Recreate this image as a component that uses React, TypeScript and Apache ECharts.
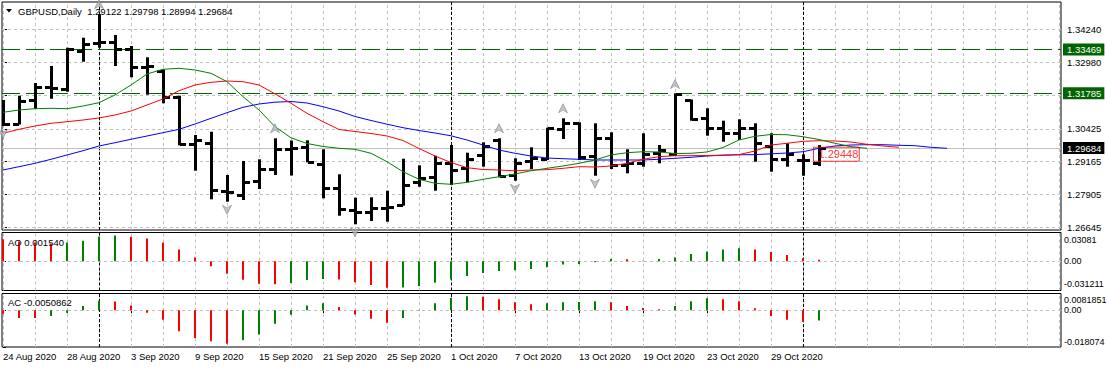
import React, { useEffect, useRef } from 'react';
import * as echarts from 'echarts';

const symbolName = 'GBPUSD';
const timeframe = 'Daily';

const barDates = [
  '24 Aug 2020', '25 Aug 2020', '26 Aug 2020', '27 Aug 2020', '28 Aug 2020', '31 Aug 2020',
  '1 Sep 2020', '2 Sep 2020', '3 Sep 2020', '4 Sep 2020', '7 Sep 2020', '8 Sep 2020', '9 Sep 2020',
  '10 Sep 2020', '11 Sep 2020', '14 Sep 2020', '15 Sep 2020', '16 Sep 2020', '17 Sep 2020',
  '18 Sep 2020', '21 Sep 2020', '22 Sep 2020', '23 Sep 2020', '24 Sep 2020', '25 Sep 2020',
  '28 Sep 2020', '29 Sep 2020', '30 Sep 2020', '1 Oct 2020', '2 Oct 2020', '5 Oct 2020',
  '6 Oct 2020', '7 Oct 2020', '8 Oct 2020', '9 Oct 2020', '12 Oct 2020', '13 Oct 2020',
  '14 Oct 2020', '15 Oct 2020', '16 Oct 2020', '19 Oct 2020', '20 Oct 2020', '21 Oct 2020',
  '22 Oct 2020', '23 Oct 2020', '26 Oct 2020', '27 Oct 2020', '28 Oct 2020', '29 Oct 2020',
  '30 Oct 2020', '2 Nov 2020', '3 Nov 2020',
];

const openP = [1.31068, 1.30607, 1.31528, 1.32015, 1.31939, 1.33419, 1.33703, 1.33764, 1.33473, 1.32805,
  1.32652, 1.31655, 1.29829, 1.29890, 1.28049, 1.27884, 1.28433, 1.28881, 1.29649, 1.29725,
  1.29073, 1.28141, 1.27309, 1.27243, 1.27374, 1.27500, 1.28394, 1.28586, 1.29123, 1.28931,
  1.29418, 1.29994, 1.28651, 1.29200, 1.29265, 1.30404, 1.30657, 1.29380, 1.30082, 1.29035,
  1.29100, 1.29484, 1.29445, 1.31528, 1.30849, 1.30466, 1.30251, 1.30443, 1.29764, 1.29265,
  1.29227, 1.29122];
const highP = [1.31528, 1.31693, 1.32180, 1.32832, 1.33534, 1.33918, 1.34820, 1.34021, 1.33599, 1.33166,
  1.32706, 1.31693, 1.30186, 1.30312, 1.28651, 1.29188, 1.29253, 1.30059, 1.29975, 1.29982,
  1.29637, 1.28678, 1.27781, 1.27796, 1.28049, 1.29276, 1.29023, 1.29392, 1.29802, 1.29507,
  1.29906, 1.30059, 1.29292, 1.29714, 1.30466, 1.30826, 1.30672, 1.30634, 1.30289, 1.29637,
  1.30251, 1.29802, 1.31758, 1.31547, 1.31210, 1.30734, 1.30788, 1.30634, 1.30251, 1.29867,
  1.29445, 1.29798];
const lowP = [1.30531, 1.30590, 1.31183, 1.31578, 1.31846, 1.32997, 1.33534, 1.32832, 1.32399, 1.31731,
  1.31402, 1.29790, 1.28816, 1.27719, 1.27627, 1.27692, 1.28114, 1.28651, 1.28632, 1.29138,
  1.27757, 1.27090, 1.26760, 1.26887, 1.26860, 1.27475, 1.28202, 1.28049, 1.28268, 1.28371,
  1.28970, 1.28563, 1.28433, 1.28881, 1.29227, 1.30032, 1.29227, 1.28624, 1.28881, 1.28716,
  1.28970, 1.29100, 1.29380, 1.30734, 1.30159, 1.29929, 1.29994, 1.29161, 1.28778, 1.28970,
  1.28624, 1.28994];
const closeP = [1.30607, 1.31501, 1.32038, 1.31999, 1.33473, 1.33665, 1.33741, 1.33473, 1.32805, 1.32832,
  1.31632, 1.29830, 1.29994, 1.28076, 1.27988, 1.28394, 1.28870, 1.29660, 1.29687, 1.29150,
  1.28164, 1.27347, 1.27243, 1.27374, 1.27424, 1.28268, 1.28525, 1.29123, 1.28843, 1.29276,
  1.29764, 1.28613, 1.29100, 1.29315, 1.30443, 1.30634, 1.29353, 1.30082, 1.29035, 1.29123,
  1.29445, 1.29610, 1.31747, 1.30799, 1.30466, 1.30251, 1.30443, 1.29867, 1.29265, 1.29457,
  1.29227, 1.29684];

// Alligator lines (index = bar position, extending past the last bar)
const lipsLine = [1.31056, 1.31145, 1.31194, 1.31210, 1.31194, 1.31298, 1.31425, 1.31720, 1.32104, 1.32526,
  1.32706, 1.32744, 1.32679, 1.32552, 1.32230, 1.31655, 1.31145, 1.30504, 1.30078, 1.29860,
  1.29745, 1.29675, 1.29637, 1.29484, 1.29161, 1.28778, 1.28486, 1.28333, 1.28295, 1.28371,
  1.28486, 1.28586, 1.28690, 1.28816, 1.28908, 1.28997, 1.29100, 1.29227, 1.29419, 1.29507,
  1.29545, 1.29534, 1.29476, 1.29484, 1.29534, 1.29706, 1.29994, 1.30136, 1.30205, 1.30197,
  1.30120, 1.30013, 1.29867, 1.29737, 1.29675];
const teethLine = [1.30251, 1.30404, 1.30531, 1.30634, 1.30696, 1.30761, 1.30838, 1.30953, 1.31106, 1.31336,
  1.31567, 1.31885, 1.32104, 1.32207, 1.32257, 1.32230, 1.32104, 1.31766, 1.31402, 1.31018,
  1.30696, 1.30397, 1.30320, 1.30243, 1.30147, 1.29975, 1.29668, 1.29380, 1.29131, 1.28931,
  1.28862, 1.28843, 1.28812, 1.28843, 1.28855, 1.28908, 1.28970, 1.28958, 1.28997, 1.29100,
  1.29254, 1.29353, 1.29392, 1.29392, 1.29399, 1.29411, 1.29434, 1.29572, 1.29802, 1.29867,
  1.29944, 1.29967, 1.29956, 1.29917, 1.29829, 1.29764, 1.29714];
const jawLine = [1.28843, 1.28970, 1.29100, 1.29254, 1.29419, 1.29583, 1.29764, 1.29890, 1.30021, 1.30147,
  1.30274, 1.30404, 1.30608, 1.30826, 1.31041, 1.31248, 1.31375, 1.31444, 1.31471, 1.31413,
  1.31271, 1.31106, 1.30895, 1.30742, 1.30600, 1.30466, 1.30358, 1.30262, 1.30155, 1.29994,
  1.29802, 1.29610, 1.29484, 1.29380, 1.29303, 1.29277, 1.29254, 1.29227, 1.29227, 1.29227,
  1.29227, 1.29254, 1.29292, 1.29330, 1.29380, 1.29411, 1.29426, 1.29434, 1.29464, 1.29495,
  1.29545, 1.29675, 1.29764, 1.29802, 1.29814, 1.29814, 1.29791, 1.29775, 1.29714, 1.29675];

const fractalUpBars = [6, 17, 31, 35, 42];
const fractalDownBars = [0, 14, 22, 32, 37];

const aoValues = [0.0237, 0.0212, 0.0202, 0.0191, 0.0202, 0.0220, 0.0266, 0.0276, 0.0262, 0.0244,
  0.0202, 0.0127, 0.0042, -0.0053, -0.0134, -0.0198, -0.0240, -0.0245, -0.0232, -0.0200,
  -0.0190, -0.0195, -0.0225, -0.0252, -0.0283, -0.0280, -0.0265, -0.0230, -0.0195, -0.0156,
  -0.0124, -0.0103, -0.0096, -0.0082, -0.0064, -0.0035, -0.0028, -0.0011, 0.0025, 0.0021,
  0.0007, 0.0025, 0.0042, 0.0078, 0.0106, 0.0127, 0.0141, 0.0127, 0.0099, 0.0067,
  0.0032, 0.00154];
const acValues = [-0.0018, -0.0038, -0.0039, -0.0028, -0.0013, 0.0020, 0.0046, 0.0043, 0.0023, -0.0013,
  -0.0047, -0.0103, -0.0137, -0.0153, -0.0165, -0.0148, -0.0119, -0.0067, -0.0023, 0.0023,
  0.0034, 0.0015, -0.0021, -0.0042, -0.0062, -0.0038, -0.0002, 0.0034, 0.0060, 0.0068,
  0.0066, 0.0054, 0.0039, 0.0029, 0.0034, 0.0039, 0.0040, 0.0044, 0.0039, 0.0020,
  0.0011, 0.0005, 0.0020, 0.0044, 0.0059, 0.0054, 0.0044, 0.0010, -0.0028, -0.0047,
  -0.0057, -0.0050862];

const priceTicks = [1.34240, 1.32980, 1.31720, 1.30425, 1.29165, 1.27905, 1.26645];
const aoTicks = [0.03081, 0, -0.031211];
const acTicks = [0.0081851, 0, -0.018074];
const dateTickBars = [0, 4, 8, 12, 16, 20, 24, 28, 32, 36, 40, 44, 48];
const levelLines = [1.33469, 1.31785];
const priceLabelValue = 1.29448;
const priceLabelBar = 51;

const FONT = "'Liberation Sans', Arial, sans-serif";
const GRID_COLOR = '#c0c0c0';
const GREEN = '#008000';
const RED = '#ff0000';

const X_MIN = -0.0625;
const X_MAX = 66.125;
const PRICE_MIN = 1.26542;
const PRICE_MAX = 1.35287;

const UP_ARROW = 'path://M5,0 L10,10 L5,7 L0,10 Z';
const DOWN_ARROW = 'path://M0,0 L5,3 L10,0 L5,10 Z';

export default function App() {
  const ref = useRef<HTMLDivElement>(null);

  useEffect(() => {
    const chart = echarts.init(ref.current as HTMLDivElement, undefined, { renderer: 'svg' });
    const n = closeP.length;
    const last = n - 1;

    const ohlc = closeP.map((c, i) => [i, openP[i], highP[i], lowP[i], c]);
    const monthStarts = barDates
      .map((d, i) => (i > 0 && d.split(' ')[1] !== barDates[i - 1].split(' ')[1] ? i : -1))
      .filter((i) => i >= 0);
    const vGrid: number[] = [];
    for (let k = 0; k <= X_MAX; k += 2) vGrid.push(k);

    const gridLine = { color: GRID_COLOR, type: [3, 3], width: 1 };
    const vLines = vGrid.map((x) => ({ xAxis: x }));
    const sepLines = monthStarts.map((x) => ({
      xAxis: x,
      lineStyle: { color: '#000', type: [3, 2], width: 1 },
    }));

    const colorize = (vals: number[]) =>
      vals.map((v, i) => ({
        value: [i, v],
        itemStyle: { color: i > 0 && v > vals[i - 1] ? GREEN : RED },
      }));

    const tagLabel = (text: string, bg: string) => ({
      show: true,
      position: 'end',
      distance: 2,
      formatter: text,
      backgroundColor: bg,
      color: '#fff',
      fontFamily: FONT,
      fontSize: 9.5,
      padding: [1, 3, 1, 4],
    });

    const baseMarkLine = {
      symbol: 'none',
      silent: true,
      animation: false,
      precision: 10,
      z: 1,
      label: { show: false },
      lineStyle: gridLine,
    };

    const xAxisBase = (gridIndex: number) => ({
      type: 'value',
      gridIndex,
      min: X_MIN,
      max: X_MAX,
      axisLine: { show: false },
      axisTick: { show: false },
      axisLabel: { show: false },
      splitLine: { show: false },
    });

    const subAxisFormatter = (ticks: number[]) => (v: number) => {
      const top = ticks[0];
      const bottom = ticks[2];
      if (Math.abs(v - top) < 1e-9) return `{t|${top}}`;
      if (Math.abs(v - bottom) < 1e-9) return `{b|${bottom}}`;
      return '0.00';
    };

    const subAxis = (gridIndex: number, ticks: number[], padTop: number, padBottom: number) => ({
      type: 'value',
      gridIndex,
      position: 'right',
      min: ticks[2],
      max: ticks[0],
      axisLine: { show: false },
      splitLine: { show: false },
      axisTick: { show: true, customValues: ticks, length: 3, lineStyle: { color: '#000' } },
      axisLabel: {
        show: true,
        customValues: ticks,
        formatter: subAxisFormatter(ticks),
        margin: 3,
        color: '#000',
        fontSize: 9,
        fontFamily: FONT,
        rich: {
          t: { padding: [padTop, 0, 0, 0], color: '#000', fontSize: 9, fontFamily: FONT },
          b: { padding: [0, 0, padBottom, 0], color: '#000', fontSize: 9, fontFamily: FONT },
        },
      },
    });

    const option: any = {
      animation: false,
      backgroundColor: '#ffffff',
      textStyle: { fontFamily: FONT },
      grid: [
        { left: 2, top: 2, width: 1059, height: 228, show: true, borderColor: '#000', borderWidth: 1, backgroundColor: 'transparent', containLabel: false, outerBoundsMode: 'none' },
        { left: 2, top: 232.5, width: 1059, height: 58, show: true, borderColor: '#000', borderWidth: 1, backgroundColor: 'transparent', containLabel: false, outerBoundsMode: 'none' },
        { left: 2, top: 293.5, width: 1059, height: 53.5, show: true, borderColor: '#000', borderWidth: 1, backgroundColor: 'transparent', containLabel: false, outerBoundsMode: 'none' },
      ],
      xAxis: [
        xAxisBase(0),
        xAxisBase(1),
        {
          ...xAxisBase(2),
          axisTick: { show: true, customValues: dateTickBars, length: 3, lineStyle: { color: '#000' } },
          axisLabel: {
            show: true,
            customValues: dateTickBars,
            formatter: (v: number) => barDates[Math.round(v)] || '',
            align: 'left',
            margin: 4,
            color: '#000',
            fontSize: 9.5,
            fontFamily: FONT,
          },
        },
      ],
      yAxis: [
        {
          type: 'value',
          gridIndex: 0,
          position: 'right',
          min: PRICE_MIN,
          max: PRICE_MAX,
          axisLine: { show: false },
          splitLine: { show: false },
          axisTick: { show: true, customValues: priceTicks, length: 4, lineStyle: { color: '#000' } },
          axisLabel: {
            show: true,
            customValues: priceTicks,
            formatter: (v: number) => v.toFixed(5),
            margin: 6,
            color: '#000',
            fontSize: 9.5,
            fontFamily: FONT,
          },
        },
        subAxis(1, aoTicks, 15, 13),
        subAxis(2, acTicks, 13, 11),
      ],
      series: [
        // main pane grid + separators
        {
          type: 'line', xAxisIndex: 0, yAxisIndex: 0, data: [], z: 1, silent: true,
          markLine: {
            ...baseMarkLine,
            data: [...priceTicks.map((v) => ({ yAxis: v })), ...vLines, ...sepLines],
          },
        },
        // bid line
        {
          type: 'line', xAxisIndex: 0, yAxisIndex: 0, data: [], z: 1, silent: true,
          markLine: {
            ...baseMarkLine,
            z: 2,
            data: [
              {
                yAxis: closeP[last],
                lineStyle: { color: GRID_COLOR, type: 'solid', width: 1 },
                label: tagLabel(closeP[last].toFixed(5), '#000'),
              },
            ],
          },
        },
        // horizontal level lines
        {
          type: 'line', xAxisIndex: 0, yAxisIndex: 0, data: [], z: 2, silent: true,
          markLine: {
            ...baseMarkLine,
            z: 2,
            data: levelLines.map((v) => ({
              yAxis: v,
              lineStyle: { color: '#006400', type: [18, 6], width: 1 },
              label: tagLabel(v.toFixed(5), '#006400'),
            })),
          },
        },
        // OHLC bars
        {
          type: 'custom',
          xAxisIndex: 0,
          yAxisIndex: 0,
          z: 3,
          clip: true,
          data: ohlc,
          encode: { x: 0, y: [1, 2, 3, 4] },
          renderItem: (params: any, api: any) => {
            const i = api.value(0);
            const pO = api.coord([i, api.value(1)]);
            const pH = api.coord([i, api.value(2)]);
            const pL = api.coord([i, api.value(3)]);
            const pC = api.coord([i, api.value(4)]);
            const x = Math.round(pH[0]);
            const fill = { fill: '#000' };
            return {
              type: 'group',
              children: [
                { type: 'rect', shape: { x: x - 1, y: pH[1], width: 3, height: Math.max(1, pL[1] - pH[1]) }, style: fill },
                { type: 'rect', shape: { x: x - 6, y: Math.round(pO[1]) - 1, width: 6, height: 3 }, style: fill },
                { type: 'rect', shape: { x: x + 1, y: Math.round(pC[1]) - 1, width: 6, height: 3 }, style: fill },
              ],
            };
          },
        },
        // Alligator
        {
          type: 'line', xAxisIndex: 0, yAxisIndex: 0, z: 4, showSymbol: false, silent: true, clip: true,
          data: jawLine.map((v, i) => [i, v]),
          lineStyle: { color: '#0000ff', width: 1 },
        },
        {
          type: 'line', xAxisIndex: 0, yAxisIndex: 0, z: 4, showSymbol: false, silent: true, clip: true,
          data: teethLine.map((v, i) => [i, v]),
          lineStyle: { color: '#ff0000', width: 1 },
        },
        {
          type: 'line', xAxisIndex: 0, yAxisIndex: 0, z: 4, showSymbol: false, silent: true, clip: true,
          data: lipsLine.map((v, i) => [i, v]),
          lineStyle: { color: '#008000', width: 1 },
        },
        // Fractals
        {
          type: 'scatter', xAxisIndex: 0, yAxisIndex: 0, z: 5, silent: true,
          symbol: UP_ARROW, symbolSize: [9, 9], symbolOffset: [0, -10],
          itemStyle: { color: '#b8b8bc', borderColor: '#6a6a7a', borderWidth: 0.6 },
          data: fractalUpBars.map((i) => [i, highP[i]]),
        },
        {
          type: 'scatter', xAxisIndex: 0, yAxisIndex: 0, z: 5, silent: true,
          symbol: DOWN_ARROW, symbolSize: [9, 9], symbolOffset: [0, 8],
          itemStyle: { color: '#b8b8bc', borderColor: '#6a6a7a', borderWidth: 0.6 },
          data: fractalDownBars.map((i) => [i, lowP[i]]),
        },
        // price label object
        {
          type: 'scatter', xAxisIndex: 0, yAxisIndex: 0, z: 6, silent: true,
          symbolSize: 1,
          itemStyle: { color: 'rgba(0,0,0,0)' },
          data: [[priceLabelBar, priceLabelValue]],
          label: {
            show: true,
            position: [-5, 0.5],
            align: 'left',
            verticalAlign: 'middle',
            formatter: priceLabelValue.toFixed(5),
            color: RED,
            borderColor: RED,
            borderWidth: 1,
            padding: [2, 1, 1, 5],
            fontSize: 11,
            fontFamily: "'Liberation Sans Narrow', 'Liberation Sans', Arial, sans-serif",
          },
        },
        // AO pane
        {
          type: 'line', xAxisIndex: 1, yAxisIndex: 1, data: [], z: 1, silent: true,
          markLine: { ...baseMarkLine, data: [{ yAxis: 0 }, ...vLines, ...sepLines] },
        },
        {
          type: 'bar', xAxisIndex: 1, yAxisIndex: 1, z: 3, silent: true, barWidth: 2,
          data: colorize(aoValues),
        },
        // AC pane
        {
          type: 'line', xAxisIndex: 2, yAxisIndex: 2, data: [], z: 1, silent: true,
          markLine: { ...baseMarkLine, data: [{ yAxis: 0 }, ...vLines, ...sepLines] },
        },
        {
          type: 'bar', xAxisIndex: 2, yAxisIndex: 2, z: 3, silent: true, barWidth: 2,
          data: colorize(acValues),
        },
      ],
      graphic: [
        { type: 'polygon', z: 100, shape: { points: [[6, 9], [12, 9], [9, 12.5]] }, style: { fill: '#000' } },
        {
          type: 'text', z: 100, x: 18, y: 11,
          style: {
            text: `${symbolName},${timeframe}  ${openP[last].toFixed(5)} ${highP[last].toFixed(5)} ${lowP[last].toFixed(5)} ${closeP[last].toFixed(5)}`,
            fill: '#000', fontSize: 9.5, fontFamily: FONT, verticalAlign: 'middle',
          },
        },
        {
          type: 'text', z: 100, x: 8, y: 242,
          style: { text: `AO ${aoValues[last].toFixed(6)}`, fill: '#000', fontSize: 9.5, fontFamily: FONT, verticalAlign: 'middle' },
        },
        {
          type: 'text', z: 100, x: 8, y: 302,
          style: { text: `AC ${acValues[last].toFixed(7)}`, fill: '#000', fontSize: 9.5, fontFamily: FONT, verticalAlign: 'middle' },
        },
      ],
    };

    chart.setOption(option);
    return () => chart.dispose();
  }, []);

  return (
    <div
      ref={ref}
      style={{ position: 'absolute', left: 0, top: 0, width: 1107, height: 368, background: '#fff' }}
    />
  );
}
